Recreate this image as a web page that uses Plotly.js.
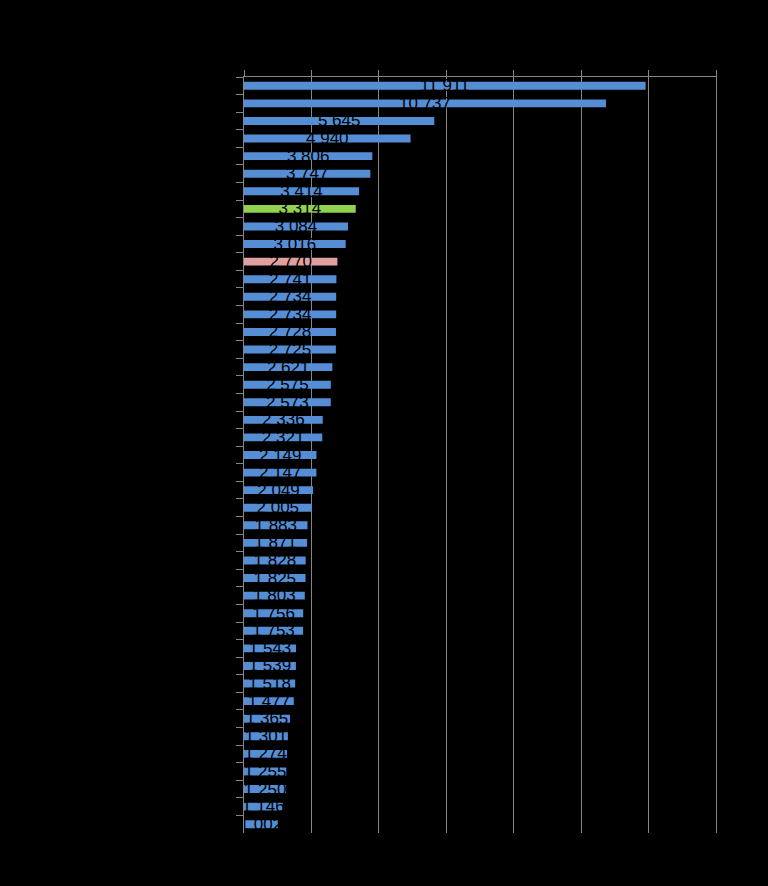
<!DOCTYPE html>
<html>
<head>
<meta charset="utf-8">
<script src="https://cdn.plot.ly/plotly-3.0.1.min.js"></script>
<style>
  html, body { margin: 0; padding: 0; background: #000; }
  #chart { width: 768px; height: 886px; }
</style>
</head>
<body>
<div id="chart"></div>
<script>
const categories = [
  "Item 1","Item 2","Item 3","Item 4","Item 5","Item 6","Item 7","Item 8","Item 9","Item 10",
  "Item 11","Item 12","Item 13","Item 14","Item 15","Item 16","Item 17","Item 18","Item 19","Item 20",
  "Item 21","Item 22","Item 23","Item 24","Item 25","Item 26","Item 27","Item 28","Item 29","Item 30",
  "Item 31","Item 32","Item 33","Item 34","Item 35","Item 36","Item 37","Item 38","Item 39","Item 40",
  "Item 41","Item 42","Item 43"
];
const values = [
  11911, 10737, 5645, 4940, 3806, 3747, 3414, 3314, 3084, 3016,
  2770, 2741, 2734, 2734, 2728, 2725, 2621, 2575, 2573, 2336,
  2321, 2149, 2147, 2049, 2005, 1883, 1871, 1828, 1825, 1803,
  1756, 1753, 1543, 1539, 1518, 1477, 1365, 1301, 1274, 1255,
  1250, 1146, 1002
];
const highlightGreen = "Item 8";
const highlightPink = "Item 11";

const BLUE = "#558ED5", GREEN = "#92D050", PINK = "#E0A0A0";
const colors = categories.map(c => c === highlightGreen ? GREEN : (c === highlightPink ? PINK : BLUE));
const fmt = v => String(v).replace(/\B(?=(\d{3})+(?!\d))/g, " ");
const labels = values.map(fmt);

const trace = {
  type: "bar",
  orientation: "h",
  x: values,
  y: categories,
  marker: { color: colors, line: { width: 0 } },
  text: labels,
  textposition: "inside",
  insidetextanchor: "middle",
  constraintext: "none",
  textangle: 0,
  textfont: { family: "Liberation Sans, Arial, sans-serif", size: 17, color: "#000000" },
  hoverinfo: "none",
  cliponaxis: false
};

const GRAY = "#868686";
const layout = {
  width: 768,
  height: 886,
  paper_bgcolor: "#000000",
  plot_bgcolor: "#000000",
  margin: { l: 244, r: 52, t: 77, b: 53, pad: 0 },
  showlegend: false,
  bargap: 0.55,
  xaxis: {
    side: "top",
    range: [0, 14000],
    dtick: 2000,
    tick0: 0,
    showgrid: true,
    gridcolor: GRAY,
    gridwidth: 1,
    zeroline: false,
    showline: true,
    linecolor: GRAY,
    linewidth: 1,
    ticks: "outside",
    ticklen: 6,
    tickcolor: GRAY,
    showticklabels: false,
    fixedrange: true
  },
  yaxis: {
    type: "category",
    autorange: "reversed",
    showgrid: false,
    zeroline: false,
    showline: true,
    mirror: true,
    linecolor: GRAY,
    linewidth: 1,
    ticks: "outside",
    tickson: "boundaries",
    ticklen: 7,
    tickcolor: GRAY,
    showticklabels: false,
    fixedrange: true
  }
};

Plotly.newPlot("chart", [trace], layout, { displayModeBar: false, staticPlot: true });
</script>
</body>
</html>
